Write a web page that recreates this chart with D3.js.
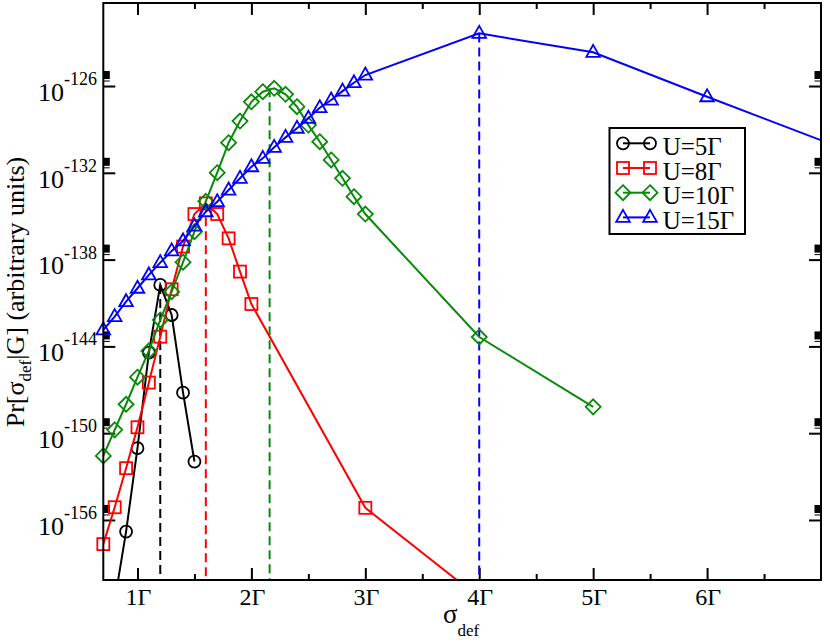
<!DOCTYPE html>
<html>
<head>
<meta charset="utf-8">
<script src="https://cdn.jsdelivr.net/npm/d3@7"></script>
<style>
  body { margin: 0; background: #fff; }
  svg { display: block; font-family: "Liberation Serif", "DejaVu Serif", serif; }
  .tick line { stroke: #000; stroke-width: 2; }
</style>
</head>
<body>
<div id="chart"></div>
<script>
// series: sigma_def (in units of Gamma) and log10 Pr[sigma_def|G]
var seriesNames = ["U=5Γ", "U=8Γ", "U=10Γ", "U=15Γ"];
var seriesColors = ["#000000", "#ff0000", "#0a8a0a", "#0000ff"];
var seriesSymbols = ["circle", "square", "diamond", "triangle"];

var sigmaU5  = [0.8, 0.9, 1.0, 1.1, 1.2, 1.3, 1.4, 1.5];
var logPrU5  = [-161.6, -156.8, -151.04, -144.43, -139.75, -141.83, -147.2, -151.96];

var sigmaU8  = [0.7, 0.8, 0.9, 1.0, 1.1, 1.2, 1.3, 1.4, 1.5, 1.6, 1.7, 1.8, 1.9, 2.0, 3.0, 4.0];
var logPrU8  = [-157.67, -155.12, -152.42, -149.59, -146.5, -143.33, -140.05, -137.1,
                -134.85, -134.11, -134.85, -136.53, -138.83, -141.07, -155.16, -161.37];

var sigmaU10 = [0.7, 0.8, 0.9, 1.0, 1.1, 1.2, 1.3, 1.4, 1.5, 1.6, 1.7, 1.8, 1.9, 2.0,
                2.1, 2.2, 2.3, 2.4, 2.5, 2.6, 2.7, 2.8, 2.9, 3.0, 4.0, 5.0];
var logPrU10 = [-151.57, -149.77, -148.0, -146.13, -144.31, -142.17, -140.22, -138.18,
                -136.07, -133.97, -131.99, -129.92, -128.42, -127.09, -126.39, -126.16,
                -126.57, -127.43, -128.7, -129.85, -131.11, -132.38, -133.65, -134.85,
                -143.35, -148.18];

var sigmaU15 = [0.7, 0.8, 0.9, 1.0, 1.1, 1.2, 1.3, 1.4, 1.5, 1.6, 1.7, 1.8, 1.9, 2.0,
                2.1, 2.2, 2.3, 2.4, 2.5, 2.6, 2.7, 2.8, 2.9, 3.0, 4.0, 5.0, 6.0, 8.0];
var logPrU15 = [-142.86, -141.94, -140.91, -139.98, -139.06, -138.21, -137.4, -136.71,
                -135.68, -134.69, -134.0, -133.19, -132.38, -131.58, -131.0, -130.24,
                -129.55, -128.92, -128.23, -127.5, -126.97, -126.35, -125.77, -125.24,
                -122.36, -123.67, -126.74, -132.76];

// maxima marked by dashed drop lines
var peakSigma = [1.2, 1.6, 2.16, 4.0];
var peakLogPr = [-139.75, -134.11, -126.16, -122.36];

var xTickValues = [1, 2, 3, 4, 5, 6];
var xTickLabels = ["1Γ", "2Γ", "3Γ", "4Γ", "5Γ", "6Γ"];
var xMinorValues = [1.5, 2.5, 3.5, 4.5, 5.5, 6.5];
var yTickExps = [-126, -132, -138, -144, -150, -156];

var width = 830, height = 642;
// plot box (window.top is reserved, so use own names)
var plotL = 103.3, plotR = 821, plotT = 3, plotB = 580;

var svg = d3.select("#chart").append("svg")
    .attr("width", width)
    .attr("height", height);

var x = d3.scaleLinear().domain([0.7, 7]).range([plotL, plotR]);
var y = d3.scaleLog().domain([Math.pow(10, -160.15), Math.pow(10, -120.26)]).range([plotB, plotT]);

function p10(e){ return Math.pow(10, e); }

svg.append("clipPath").attr("id", "plot-clip")
  .append("rect")
    .attr("x", plotL).attr("y", plotT)
    .attr("width", plotR - plotL).attr("height", plotB - plotT);

// axes (inward ticks on all four sides)
function tickAxis(axis, tx, ty){
    var g = svg.append("g").attr("transform", "translate(" + tx + "," + ty + ")").call(axis);
    g.select(".domain").remove();
    return g;
}
var yTicks = yTickExps.map(p10);
tickAxis(d3.axisBottom(x).tickValues(xTickValues).tickSize(-12).tickFormat(""), 0, plotB);
tickAxis(d3.axisBottom(x).tickValues(xMinorValues).tickSize(-6).tickFormat(""), 0, plotB);
tickAxis(d3.axisTop(x).tickValues(xTickValues).tickSize(-12).tickFormat(""), 0, plotT);
tickAxis(d3.axisTop(x).tickValues(xMinorValues).tickSize(-6).tickFormat(""), 0, plotT);
tickAxis(d3.axisLeft(y).tickValues(yTicks).tickSize(-12).tickFormat(""), plotL, 0);
tickAxis(d3.axisRight(y).tickValues(yTicks).tickSize(-12).tickFormat(""), plotR, 0);

// little black blocks that sit above each major y tick
yTicks.forEach(function(v){
    var ty = y(v);
    [plotL, plotR - 6.5].forEach(function(bx){
        svg.append("rect").attr("x", bx).attr("y", ty - 15).attr("width", 6.5).attr("height", 8).attr("fill", "#000");
        svg.append("line").attr("x1", bx).attr("x2", bx + 6.5)
            .attr("y1", ty - 5).attr("y2", ty - 5).attr("stroke", "#000").attr("stroke-width", 1);
    });
});

// tick labels
svg.append("g").selectAll("text")
    .data(xTickValues)
    .enter().append("text")
    .attr("x", function(d){ return x(d) + 1; })
    .attr("y", 605)
    .attr("text-anchor", "middle")
    .attr("font-size", 24)
    .text(function(d, i){ return xTickLabels[i]; });

var yl = svg.append("g").selectAll("text")
    .data(yTickExps)
    .enter().append("text")
    .attr("x", 97)
    .attr("y", function(d){ return y(p10(d)) + 14.7; })
    .attr("text-anchor", "end");
yl.append("tspan").attr("font-size", 26).text("10");
yl.append("tspan").attr("font-size", 18).attr("dy", -15.7).text(function(d){ return d; });

// axis titles
var xt = svg.append("text").attr("x", 443).attr("y", 623).attr("font-size", 27);
xt.append("tspan").text("σ");
xt.append("tspan").attr("font-size", 17).attr("dy", 13).text("def");

var yt = svg.append("text")
    .attr("transform", "translate(24,292) rotate(-90)")
    .attr("text-anchor", "middle")
    .attr("font-size", 26);
yt.append("tspan").text("Pr[σ");
yt.append("tspan").attr("font-size", 17).attr("dy", 7).text("def");
yt.append("tspan").attr("dy", -7).text("|G] (arbitrary units)");

// marker shapes
function marker(g, kind, cx, cy, color){
    var s;
    if(kind == "circle"){
        s = g.append("circle").attr("cx", cx).attr("cy", cy).attr("r", 6);
    }else if(kind == "square"){
        s = g.append("rect").attr("x", cx - 6).attr("y", cy - 6).attr("width", 12).attr("height", 12);
    }else if(kind == "diamond"){
        s = g.append("path").attr("d", "M" + cx + "," + (cy - 7.5) + "L" + (cx + 7.5) + "," + cy +
            "L" + cx + "," + (cy + 7.5) + "L" + (cx - 7.5) + "," + cy + "Z");
    }else{
        s = g.append("path").attr("d", "M" + cx + "," + (cy - 7.5) + "L" + (cx + 6.8) + "," + (cy + 4.5) +
            "L" + (cx - 6.8) + "," + (cy + 4.5) + "Z");
    }
    s.attr("fill", "none").attr("stroke", color).attr("stroke-width", 1.8);
}

// dashed drop lines at the maxima
svg.append("g").attr("clip-path", "url(#plot-clip)").selectAll("line")
    .data(peakSigma)
    .enter().append("line")
    .attr("x1", function(d){ return x(d); })
    .attr("x2", function(d){ return x(d); })
    .attr("y1", function(d, i){ return y(p10(peakLogPr[i])); })
    .attr("y2", plotB)
    .attr("stroke", function(d, i){ return seriesColors[i]; })
    .attr("stroke-width", 2)
    .attr("stroke-dasharray", "9,5");

var allSigma = [sigmaU5, sigmaU8, sigmaU10, sigmaU15];
var allLogPr = [logPrU5, logPrU8, logPrU10, logPrU15];

var line = d3.line()
    .x(function(d){ return x(d[0]); })
    .y(function(d){ return y(p10(d[1])); });

allSigma.forEach(function(sig, i){
    var pts = sig.map(function(s, j){ return [s, allLogPr[i][j]]; });
    var g = svg.append("g");
    g.append("path")
        .attr("clip-path", "url(#plot-clip)")
        .attr("d", line(pts))
        .attr("fill", "none")
        .attr("stroke", seriesColors[i])
        .attr("stroke-width", 2);
    pts.forEach(function(p){
        if(p[0] > 7 || p[1] < -160.15) return;
        marker(g, seriesSymbols[i], x(p[0]), y(p10(p[1])), seriesColors[i]);
    });
});

// frame
svg.append("rect")
    .attr("x", plotL).attr("y", plotT)
    .attr("width", plotR - plotL).attr("height", plotB - plotT)
    .attr("fill", "none").attr("stroke", "#000").attr("stroke-width", 2);

// legend
var lg = svg.append("g");
lg.append("rect")
    .attr("x", 609.5).attr("y", 128)
    .attr("width", 135.5).attr("height", 106)
    .attr("fill", "#fff").attr("stroke", "#000").attr("stroke-width", 2);
seriesNames.forEach(function(name, i){
    var ry = 143.3 + i * 24.7;
    lg.append("line").attr("x1", 623).attr("x2", 650).attr("y1", ry).attr("y2", ry)
        .attr("stroke", seriesColors[i]).attr("stroke-width", 2);
    marker(lg, seriesSymbols[i], 623, ry, seriesColors[i]);
    marker(lg, seriesSymbols[i], 650, ry, seriesColors[i]);
    lg.append("text").attr("x", 662.7).attr("y", ry + 11.5).attr("font-size", 25).text(name);
});
</script>
</body>
</html>
